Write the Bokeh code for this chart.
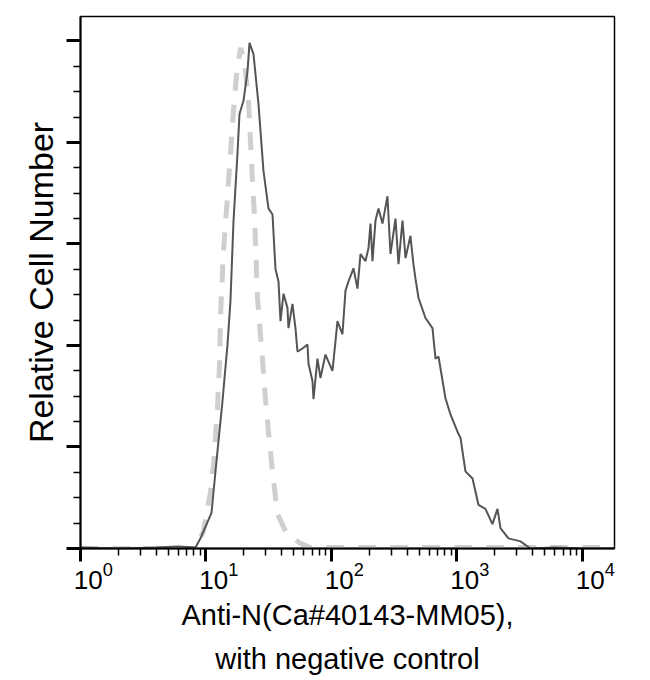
from bokeh.plotting import figure
from bokeh.models import Range1d, FixedTicker, Title, LogAxis, LogScale
from bokeh.embed import file_html
from bokeh.resources import INLINE

# Sample (anti-N antibody) histogram
sample_x = [1, 2, 4, 6, 8.25, 9.04, 11.06, 11.69, 12.58, 13.53, 14.84, 15.67, 16.56, 17.82, 18.49,
            19.90, 21.42, 22.22, 23.90, 26.19, 28.71, 31.47, 33.88, 35.80, 37.83, 39.25, 41.47,
            44.60, 45.43, 48.87, 51.64, 53.58, 58.72, 64.36, 65.59, 70.58, 71.90, 77.31, 81.70,
            89.54, 101.8, 107.6, 111.6, 122.3, 129.3, 136.6, 149.7, 161.1, 170.3, 186.6, 197.2,
            204.6, 212.2, 224.2, 237.0, 254.9, 279.3, 295.2, 323.6, 342.0, 368.1, 389.0, 425.7,
            449.9, 466.7, 493.3, 560.9, 638.0, 674.3, 712.8, 809.6, 887.6, 1009, 1067, 1169, 1330,
            1483, 1686, 1918, 2103, 2222, 2572, 3206, 3853, 6000, 10000, 18000]
sample_y = [0.01, 0.0, 0.01, 0.02, 0.01, 0.10, 0.35, 0.66, 1.06, 1.45, 2.01, 2.44, 3.22, 3.89, 4.28,
            4.41, 4.70, 4.98, 4.87, 4.38, 3.72, 3.35, 3.29, 2.75, 2.63, 2.24, 2.51,
            2.37, 2.17, 2.41, 2.17, 1.94, 1.97, 2.01, 1.82, 1.65, 1.47, 1.87, 1.68,
            1.91, 1.75, 2.04, 2.24, 2.11, 2.54, 2.63, 2.76, 2.56, 2.90, 2.83, 2.96,
            3.20, 2.83, 3.23, 3.35, 3.20, 3.47, 2.90, 3.25, 2.80, 3.23, 2.86, 3.08,
            2.80, 2.66, 2.47, 2.27, 2.17, 1.87, 1.89, 1.48, 1.32, 1.15, 1.09, 0.76, 0.69,
            0.43, 0.39, 0.24, 0.39, 0.20, 0.10, 0.07, 0.0, 0.01, 0.0, 0.0]

# Negative control histogram (dashed)
control_x = [1, 8.25, 9.55, 10.86, 11.48, 12.35, 12.81, 13.05, 13.78, 14.84, 15.67, 16.56, 17.50,
             18.83, 20.27, 21.81, 22.63, 23.47, 24.34, 25.72, 28.19, 29.79, 31.47, 33.88, 37.12,
             42.98, 49.77, 56.62, 68.03, 18000]
control_y = [0.0, 0.0, 0.17, 0.56, 0.83, 1.38, 1.80, 2.29, 2.93, 3.47, 3.89, 4.31, 4.66,
             4.93, 4.80, 4.41, 4.01, 3.62, 3.27, 2.47, 1.86, 1.47, 1.15, 0.76, 0.34,
             0.17, 0.10, 0.05, 0.01, 0.01]

x_major_ticks = [1, 10, 100, 1000, 10000]
x_minor_ticks = [2, 3, 4, 5, 6, 7, 8, 9,
                 20, 30, 40, 50, 60, 70, 80, 90,
                 200, 300, 400, 500, 600, 700, 800, 900,
                 2000, 3000, 4000, 5000, 6000, 7000, 8000, 9000]
y_major_ticks = [0, 1, 2, 3, 4, 5]
y_minor_ticks = [0.25, 0.5, 0.75, 1.25, 1.5, 1.75, 2.25, 2.5, 2.75,
                 3.25, 3.5, 3.75, 4.25, 4.5, 4.75]

FONT = "Liberation Sans"
X_START, X_END = 1, 18000
LABEL_SHIFT = 0.79   # tick labels sit a little right of their ticks in the reference

p = figure(width=650, height=680, x_axis_type="log",
           x_range=Range1d(X_START, X_END), y_range=Range1d(0, 5.24),
           output_backend="svg", toolbar_location=None,
           min_border_left=80, min_border_right=36, min_border_top=16, min_border_bottom=132)

p.background_fill_color = "white"
p.border_fill_color = "white"
p.outline_line_color = "black"
p.outline_line_width = 1.5
p.xgrid.visible = False
p.ygrid.visible = False

p.line(control_x, control_y, line_color="#cfcfcf", line_width=5, line_dash="18 14")
p.line(sample_x, sample_y, line_color="#555555", line_width=2)

# primary x axis: ticks only
xa = p.xaxis[0]
xa.ticker = FixedTicker(ticks=x_major_ticks, minor_ticks=x_minor_ticks)
xa.axis_line_color = "black"
xa.axis_line_width = 2
xa.major_tick_in = 0
xa.major_tick_out = 13
xa.major_tick_line_width = 3
xa.minor_tick_in = 0
xa.minor_tick_out = 7
xa.minor_tick_line_width = 1.5
xa.major_label_text_font_size = "1px"
xa.major_label_text_color = None
xa.major_label_standoff = 0

# label axis: tick labels only, slightly offset to the right
p.extra_x_ranges = {"lbl": Range1d(X_START * LABEL_SHIFT, X_END * LABEL_SHIFT)}
p.extra_x_scales = {"lbl": LogScale()}
la = LogAxis(x_range_name="lbl", ticker=FixedTicker(ticks=x_major_ticks, minor_ticks=[]))
la.axis_line_color = None
la.major_tick_line_color = None
la.minor_tick_line_color = None
la.major_tick_out = 0
la.major_tick_in = 0
la.minor_tick_out = 0
la.minor_tick_in = 0
la.major_label_text_font = FONT
la.major_label_text_font_size = "26px"
la.major_label_text_color = "black"
la.major_label_standoff = 0
p.add_layout(la, "below")

ya = p.yaxis[0]
ya.ticker = FixedTicker(ticks=y_major_ticks, minor_ticks=y_minor_ticks)
ya.axis_line_color = "black"
ya.axis_line_width = 2
ya.major_tick_in = 0
ya.major_tick_out = 14
ya.major_tick_line_width = 3
ya.minor_tick_in = 0
ya.minor_tick_out = 7
ya.minor_tick_line_width = 1.5
ya.major_label_text_font_size = "1px"
ya.major_label_text_color = None
ya.major_label_standoff = 0
ya.axis_label = "Relative Cell Number"
ya.axis_label_text_font = FONT
ya.axis_label_text_font_size = "34px"
ya.axis_label_text_font_style = "normal"
ya.axis_label_text_color = "black"
ya.axis_label_standoff = 7

t1 = Title(text="Anti-N(Ca#40143-MM05),", align="center",
           text_font=FONT, text_font_size="29px", text_font_style="normal", text_color="black")
t2 = Title(text="with negative control", align="center",
           text_font=FONT, text_font_size="29px", text_font_style="normal", text_color="black")
p.add_layout(t1, "below")
p.add_layout(t2, "below")

open("out.html", "w").write(file_html(p, INLINE))
